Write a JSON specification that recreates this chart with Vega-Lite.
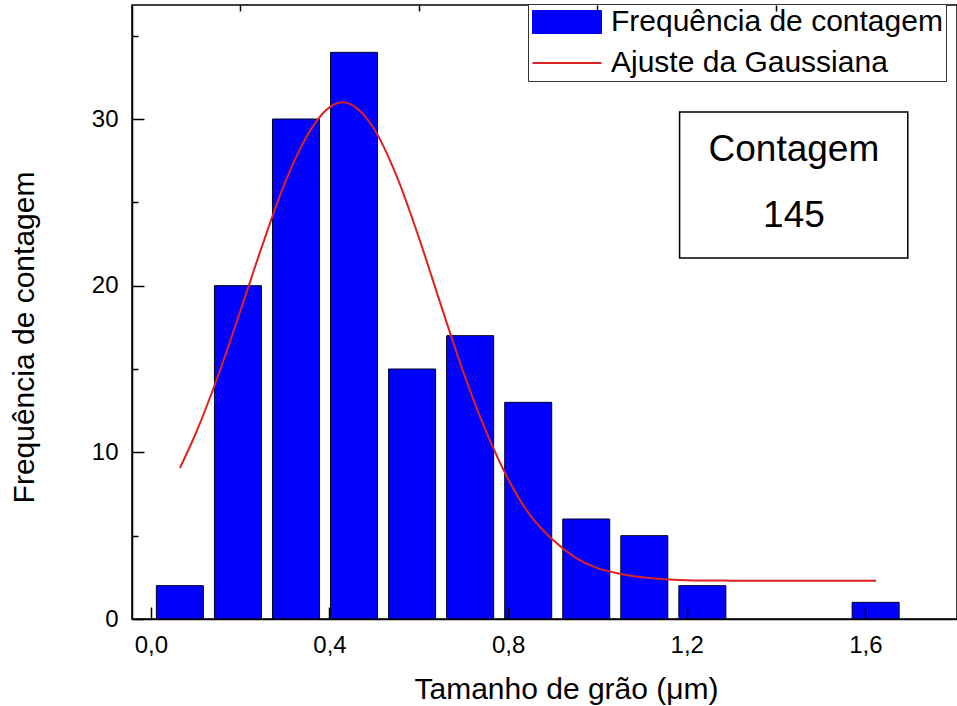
{
  "$schema": "https://vega.github.io/schema/vega-lite/v6.json",
  "width": 825,
  "height": 614,
  "autosize": {"type": "none"},
  "padding": {"left": 132, "top": 5, "right": 0, "bottom": 87},
  "background": "white",
  "config": {
    "view": {"stroke": "black", "strokeWidth": 1.5},
    "font": "Liberation Sans"
  },
  "datasets": {
    "histograma": [
      {"tamanho": 0.065, "frequencia": 2, "serie": "Frequência de contagem"},
      {"tamanho": 0.195, "frequencia": 20, "serie": "Frequência de contagem"},
      {"tamanho": 0.325, "frequencia": 30, "serie": "Frequência de contagem"},
      {"tamanho": 0.455, "frequencia": 34, "serie": "Frequência de contagem"},
      {"tamanho": 0.585, "frequencia": 15, "serie": "Frequência de contagem"},
      {"tamanho": 0.715, "frequencia": 17, "serie": "Frequência de contagem"},
      {"tamanho": 0.845, "frequencia": 13, "serie": "Frequência de contagem"},
      {"tamanho": 0.975, "frequencia": 6, "serie": "Frequência de contagem"},
      {"tamanho": 1.105, "frequencia": 5, "serie": "Frequência de contagem"},
      {"tamanho": 1.235, "frequencia": 2, "serie": "Frequência de contagem"},
      {"tamanho": 1.623, "frequencia": 1, "serie": "Frequência de contagem"}
    ],
    "gaussiana": [
      {"tamanho": 0.065, "frequencia": 9.05, "serie": "Ajuste da Gaussiana"},
      {"tamanho": 0.10, "frequencia": 11.1, "serie": "Ajuste da Gaussiana"},
      {"tamanho": 0.15, "frequencia": 14.55, "serie": "Ajuste da Gaussiana"},
      {"tamanho": 0.20, "frequencia": 18.45, "serie": "Ajuste da Gaussiana"},
      {"tamanho": 0.25, "frequencia": 22.45, "serie": "Ajuste da Gaussiana"},
      {"tamanho": 0.30, "frequencia": 26.15, "serie": "Ajuste da Gaussiana"},
      {"tamanho": 0.35, "frequencia": 29.0, "serie": "Ajuste da Gaussiana"},
      {"tamanho": 0.40, "frequencia": 30.7, "serie": "Ajuste da Gaussiana"},
      {"tamanho": 0.43, "frequencia": 31.0, "serie": "Ajuste da Gaussiana"},
      {"tamanho": 0.45, "frequencia": 30.85, "serie": "Ajuste da Gaussiana"},
      {"tamanho": 0.50, "frequencia": 29.4, "serie": "Ajuste da Gaussiana"},
      {"tamanho": 0.55, "frequencia": 26.6, "serie": "Ajuste da Gaussiana"},
      {"tamanho": 0.60, "frequencia": 22.9, "serie": "Ajuste da Gaussiana"},
      {"tamanho": 0.65, "frequencia": 18.8, "serie": "Ajuste da Gaussiana"},
      {"tamanho": 0.70, "frequencia": 14.8, "serie": "Ajuste da Gaussiana"},
      {"tamanho": 0.75, "frequencia": 11.3, "serie": "Ajuste da Gaussiana"},
      {"tamanho": 0.80, "frequencia": 8.4, "serie": "Ajuste da Gaussiana"},
      {"tamanho": 0.85, "frequencia": 6.2, "serie": "Ajuste da Gaussiana"},
      {"tamanho": 0.90, "frequencia": 4.75, "serie": "Ajuste da Gaussiana"},
      {"tamanho": 0.95, "frequencia": 3.7, "serie": "Ajuste da Gaussiana"},
      {"tamanho": 1.00, "frequencia": 3.05, "serie": "Ajuste da Gaussiana"},
      {"tamanho": 1.05, "frequencia": 2.72, "serie": "Ajuste da Gaussiana"},
      {"tamanho": 1.10, "frequencia": 2.5, "serie": "Ajuste da Gaussiana"},
      {"tamanho": 1.15, "frequencia": 2.38, "serie": "Ajuste da Gaussiana"},
      {"tamanho": 1.20, "frequencia": 2.33, "serie": "Ajuste da Gaussiana"},
      {"tamanho": 1.30, "frequencia": 2.3, "serie": "Ajuste da Gaussiana"},
      {"tamanho": 1.40, "frequencia": 2.29, "serie": "Ajuste da Gaussiana"},
      {"tamanho": 1.50, "frequencia": 2.29, "serie": "Ajuste da Gaussiana"},
      {"tamanho": 1.624, "frequencia": 2.29, "serie": "Ajuste da Gaussiana"}
    ],
    "caixa": [
      {"x_ini": 1.184, "x_fim": 1.695, "y_ini": 21.66, "y_fim": 30.42}
    ],
    "rotulos": [
      {"x": 1.44, "y": 27.5, "texto": "Contagem"},
      {"x": 1.44, "y": 23.5, "texto": "145"}
    ]
  },
  "resolve": {"axis": {"x": "independent", "y": "independent"}},
  "layer": [
    {
      "data": {"name": "histograma"},
      "mark": {"type": "bar", "size": 47, "stroke": "#000022", "strokeWidth": 1},
      "encoding": {
        "x": {
          "field": "tamanho", "type": "quantitative",
          "scale": {"domain": [-0.031, 1.794], "nice": false, "zero": false},
          "axis": {
            "values": [0, 0.4, 0.8, 1.2, 1.6],
            "labelExpr": "replace(format(datum.value, '.1f'), '.', ',')",
            "tickSize": -12, "tickColor": "black", "tickWidth": 1.5,
            "domainColor": "black", "domainWidth": 1.5,
            "labelFontSize": 24, "labelColor": "black", "labelPadding": 26,
            "labelFont": "Liberation Sans",
            "grid": false,
            "title": "Tamanho de grão (μm)",
            "titleFont": "Liberation Sans",
            "titleFontSize": 30, "titleFontWeight": "normal", "titleColor": "black",
            "titleX": 434, "titleY": 79, "titleBaseline": "alphabetic", "titleAlign": "center",
            "zindex": 1
          }
        },
        "y": {
          "field": "frequencia", "type": "quantitative",
          "scale": {"domain": [0, 36.84], "nice": false, "zero": false},
          "axis": {
            "values": [0, 10, 20, 30],
            "tickSize": -12, "tickColor": "black", "tickWidth": 1.5,
            "domainColor": "black", "domainWidth": 1.5,
            "labelFontSize": 24, "labelColor": "black", "labelPadding": 26,
            "labelFont": "Liberation Sans",
            "grid": false,
            "title": "Frequência de contagem",
            "titleFont": "Liberation Sans",
            "titleFontSize": 30, "titleFontWeight": "normal", "titleColor": "black",
            "titleX": -99, "titleY": 332, "titleBaseline": "alphabetic", "titleAlign": "center", "titleAngle": -90,
            "zindex": 1
          }
        },
        "color": {
          "field": "serie", "type": "nominal",
          "scale": {"domain": ["Frequência de contagem", "Ajuste da Gaussiana"], "range": ["#0000FF", "#DD2222"]},
          "legend": {
            "orient": "none", "legendX": 396, "legendY": -1,
            "title": null,
            "direction": "vertical",
            "fillColor": "white", "strokeColor": "#333333",
            "padding": 3,
            "labelFontSize": 30, "labelFont": "Liberation Sans", "labelColor": "black",
            "labelLimit": 600,
            "labelOffset": 29, "rowPadding": 11,
            "symbolSize": 529,
            "symbolOffset": 21,
            "encode": {
              "symbols": {
                "update": {
                  "shape": {"signal": "datum.value == 'Ajuste da Gaussiana' ? 'M-3,0H3' : 'M-3,-1H3V1H-3Z'"},
                  "strokeWidth": {"signal": "datum.value == 'Ajuste da Gaussiana' ? 2 : 1"},
                  "opacity": {"value": 1}
                }
              }
            }
          }
        }
      }
    },
    {
      "data": {"name": "gaussiana"},
      "mark": {"type": "line", "strokeWidth": 2, "interpolate": "monotone"},
      "encoding": {
        "x": {"field": "tamanho", "type": "quantitative", "scale": {"domain": [-0.031, 1.794], "nice": false, "zero": false}, "axis": null},
        "y": {"field": "frequencia", "type": "quantitative", "scale": {"domain": [0, 36.84], "nice": false, "zero": false}, "axis": null},
        "color": {
          "field": "serie", "type": "nominal",
          "legend": {
            "orient": "none", "legendX": 396, "legendY": -1,
            "title": null,
            "direction": "vertical",
            "fillColor": "white", "strokeColor": "#333333",
            "padding": 3,
            "labelFontSize": 30, "labelFont": "Liberation Sans", "labelColor": "black",
            "labelLimit": 600,
            "labelOffset": 29, "rowPadding": 11,
            "symbolSize": 529,
            "symbolOffset": 21,
            "encode": {
              "symbols": {
                "update": {
                  "shape": {"signal": "datum.value == 'Ajuste da Gaussiana' ? 'M-3,0H3' : 'M-3,-1H3V1H-3Z'"},
                  "strokeWidth": {"signal": "datum.value == 'Ajuste da Gaussiana' ? 2 : 1"},
                  "opacity": {"value": 1}
                }
              }
            }
          }
        }
      }
    },
    {
      "data": {"name": "caixa"},
      "mark": {"type": "rect", "fill": "white", "stroke": "black", "strokeWidth": 1.5},
      "encoding": {
        "x": {
          "field": "x_ini", "type": "quantitative",
          "scale": {"domain": [-0.031, 1.794], "nice": false, "zero": false},
          "axis": {"values": [0.2, 0.6, 1.0, 1.4], "labels": false, "domain": false, "tickSize": -6, "tickColor": "black", "tickWidth": 1.5, "title": null, "grid": false, "zindex": 1}
        },
        "x2": {"field": "x_fim"},
        "y": {
          "field": "y_ini", "type": "quantitative",
          "scale": {"domain": [0, 36.84], "nice": false, "zero": false},
          "axis": {"values": [5, 15, 25, 35], "labels": false, "domain": false, "tickSize": -6, "tickColor": "black", "tickWidth": 1.5, "title": null, "grid": false, "zindex": 1, "orient": "left"}
        },
        "y2": {"field": "y_fim"}
      }
    },
    {
      "data": {"name": "rotulos"},
      "mark": {"type": "text", "fontSize": 37, "font": "Liberation Sans", "color": "black", "baseline": "alphabetic", "align": "center"},
      "encoding": {
        "x": {"field": "x", "type": "quantitative", "scale": {"domain": [-0.031, 1.794], "nice": false, "zero": false}, "axis": null},
        "y": {"field": "y", "type": "quantitative", "scale": {"domain": [0, 36.84], "nice": false, "zero": false}, "axis": null},
        "text": {"field": "texto"}
      }
    }
  ]
}
